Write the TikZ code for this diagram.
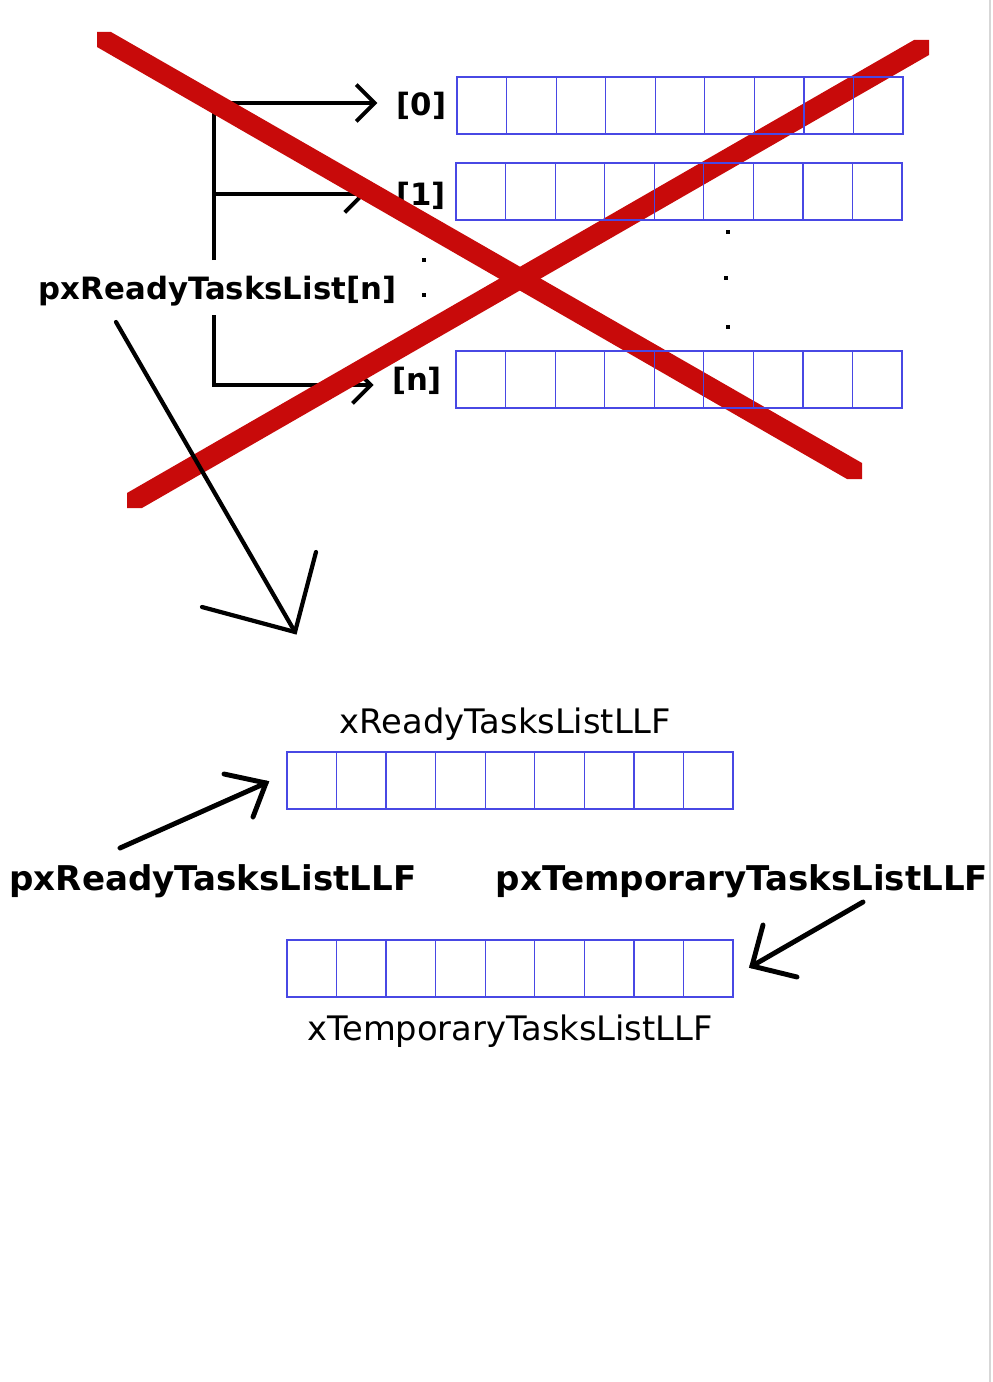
\documentclass[tikz,border=0pt]{standalone}
\usepackage{fontspec}
\setmainfont{DejaVu Sans}
\usetikzlibrary{arrows.meta,calc}
\newlength\upx
\setlength\upx{0.02cm}
\definecolor{cellblue}{RGB}{72,72,228}
\definecolor{crossred}{RGB}{200,10,10}
\definecolor{edgegray}{RGB}{215,215,215}
% nine-cell divider lines inside an array node
\newcommand\celldividers[1]{%
  \foreach \i in {1,...,8}{%
    \draw[cellline] ($(#1.north west)!\i/9!(#1.north east)$) -- ($(#1.south west)!\i/9!(#1.south east)$);}}
\begin{document}
\begin{tikzpicture}[x=0.02cm,y=-0.02cm,
  arr/.style={draw=cellblue,line width=0.8pt,minimum width=446\upx,minimum height=57\upx,
              inner sep=0pt,outer sep=0pt,anchor=north west},
  cellline/.style={draw=cellblue,line width=0.7pt},
  idx/.style={font=\bfseries\fontsize{17.5}{21}\selectfont,inner sep=0pt,anchor=base},
  ptr/.style={font=\bfseries\fontsize{19.4}{23}\selectfont,inner sep=0pt,anchor=base},
  lbl/.style={font=\fontsize{19.2}{23}\selectfont,inner sep=0pt,anchor=base},
  link/.style={line width=2.2pt,-{Straight Barb[length=10.5pt,width=21pt]}},
  hand/.style={line width=2.8pt,line cap=round,line join=miter},
  strike/.style={fill=crossred}]
\useasboundingbox (0,0) rectangle (992,1382);
\fill[white] (0,0) rectangle (992,1382);
\draw[edgegray,line width=1.2pt] (990,0) -- (990,1382);

% index labels of the ready-list array
\node[idx] (l0) at (421.5,115.5) {[0]};
\node[idx] (l1) at (421,205.5) {[1]};
\node[idx] (ln) at (417,390.5) {[n]};
\node[idx] (plist) at (217.5,299) {pxReadyTasksList[n]};

% branching pointers
\coordinate (j0) at (214,103);
\coordinate (j1) at (214,194);
\coordinate (jn) at (214,385);
\coordinate (tt) at (214,260);
\coordinate (tb) at (214,315);
\draw[link,shorten >=19\upx] (tt) -- (j0) -- (j0 -| l0.west);
\draw[link,shorten >=30\upx] (j1) -- (j1 -| l1.west);
\draw[link,shorten >=18\upx] (tb) -- (jn) -- (jn -| ln.west);

% the crossed-out part
\fill[strike] (97,32) -- (111,32) -- (862,463) -- (862,479) -- (847,479) -- (97,47) -- cycle;
\fill[strike] (127,493) -- (914,40) -- (929,40) -- (929,55) -- (142,508) -- (127,508) -- cycle;

% arrays
\node[arr] (r0) at (457,77) {};
\node[arr] (r1) at (456,163) {};
\node[arr] (rn) at (456,351) {};
\node[arr] (llf) at (287,752) {};
\node[arr] (tmp) at (287,940) {};
\celldividers{r0}
\celldividers{r1}
\celldividers{rn}
\celldividers{llf}
\celldividers{tmp}

% ellipsis dots
\fill (422,258) rectangle ++(4,4);
\fill (422,293) rectangle ++(4,4);
\fill (726,230) rectangle ++(4,4);
\fill (724,276) rectangle ++(4,4);
\fill (726,325) rectangle ++(4,4);

% names
\node[lbl] (xr) at (505.5,733) {xReadyTasksListLLF};
\node[lbl] (xt) at (510,1040) {xTemporaryTasksListLLF};
\node[ptr] (pr) at (213,890) {pxReadyTasksListLLF};
\node[ptr] (pt) at (742,890) {pxTemporaryTasksListLLF};

% hand-drawn arrows
\coordinate (d0) at (116,322);
\coordinate (d1) at (295,632);
\draw[hand,line width=2.4pt] (d0) -- (d1);
\draw[hand,line width=2.4pt] (202,607) -- (d1) -- (316,552);

\coordinate (a0) at (120,848);
\coordinate (a1) at (266,783);
\draw[hand] (a0) -- (a1);
\draw[hand] (224,774) -- (a1) -- (253,817);

\coordinate (b0) at (863,902);
\coordinate (b1) at (752,966);
\draw[hand] (b0) -- (b1);
\draw[hand] (763,925) -- (b1) -- (797,977);
\end{tikzpicture}
\end{document}
